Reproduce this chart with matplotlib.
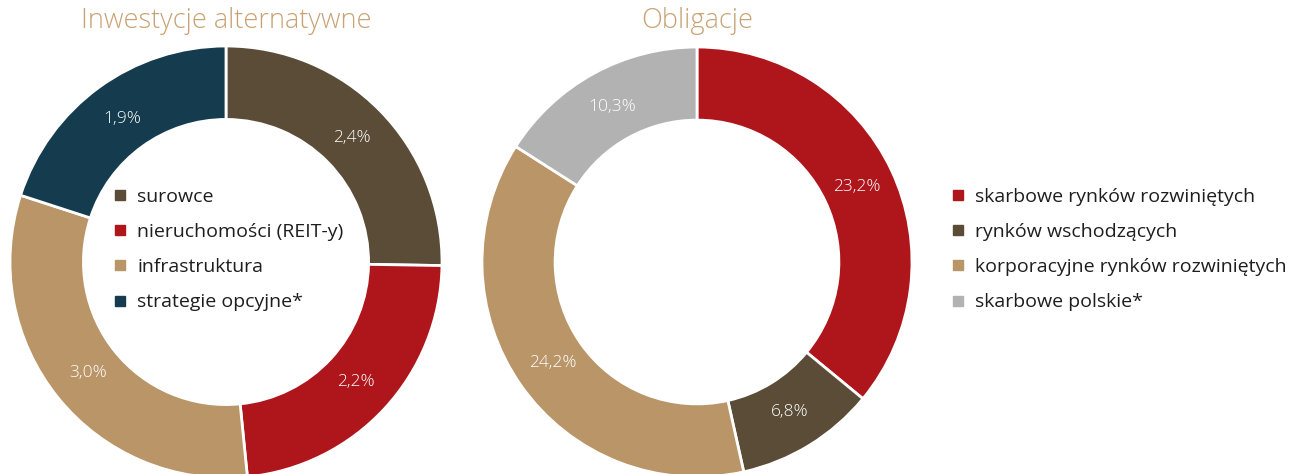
import numpy as np
import matplotlib.pyplot as plt
from matplotlib.lines import Line2D

plt.rcParams['font.family'] = ['Open Sans', 'DejaVu Sans']

# data
alt_labels = ['surowce', 'nieruchomości (REIT-y)', 'infrastruktura', 'strategie opcyjne*']
alt_values = [2.4, 2.2, 3.0, 1.9]
alt_colors = ['#5a4c36', '#ae161b', '#b99568', '#143c4e']

bond_labels = ['skarbowe rynków rozwiniętych', 'rynków wschodzących',
               'korporacyjne rynków rozwiniętych', 'skarbowe polskie*']
bond_values = [23.2, 6.8, 24.2, 10.3]
bond_colors = ['#ae161b', '#5a4c36', '#b99568', '#b2b2b2']

W, H = 1295, 474
title_color = '#c8a273'


def donut(fig, cx, cy, r, values, colors, title):
    ax = fig.add_axes([(cx - r) / W, (H - cy - r) / H, 2 * r / W, 2 * r / H])
    wedges, _ = ax.pie(values, colors=colors, startangle=90, counterclock=False,
                       radius=1, wedgeprops=dict(width=0.34, edgecolor='white', linewidth=2))
    total = sum(values)
    ang = 90.0
    for v in values:
        mid = np.deg2rad(ang - v / total * 360 / 2)
        ang -= v / total * 360
        ax.text(0.82 * np.cos(mid), 0.82 * np.sin(mid), f'{v:.1f}%'.replace('.', ','),
                ha='center', va='center', color='white', fontsize=12.5, fontweight='light')
    ax.set_xlim(-1, 1)
    ax.set_ylim(-1, 1)
    ax.set_aspect('equal')
    ax.axis('off')
    fig.text(cx / W, 1 - 21 / H, title, ha='center', va='center',
             color=title_color, fontsize=19.5, fontweight='light')
    return wedges


def legend(fig, x, y, labels, colors):
    handles = [Line2D([], [], marker='s', linestyle='none', markersize=7,
                      markerfacecolor=c, markeredgecolor=c) for c in colors]
    fig.legend(handles, labels, loc='upper left', bbox_to_anchor=(x / W, 1 - y / H),
               frameon=False, fontsize=14, labelcolor='#1e1e1e', handlelength=0.55,
               handletextpad=0.6, labelspacing=0.88, borderpad=0, borderaxespad=0)


fig = plt.figure(figsize=(W / 100, H / 100), dpi=100)
donut(fig, 226, 262, 216, alt_values, alt_colors, 'Inwestycje alternatywne')
donut(fig, 697, 262, 215, bond_values, bond_colors, 'Obligacje')
legend(fig, 115, 188, alt_labels, alt_colors)
legend(fig, 953, 188, bond_labels, bond_colors)

fig.savefig('out.png', dpi=100)
